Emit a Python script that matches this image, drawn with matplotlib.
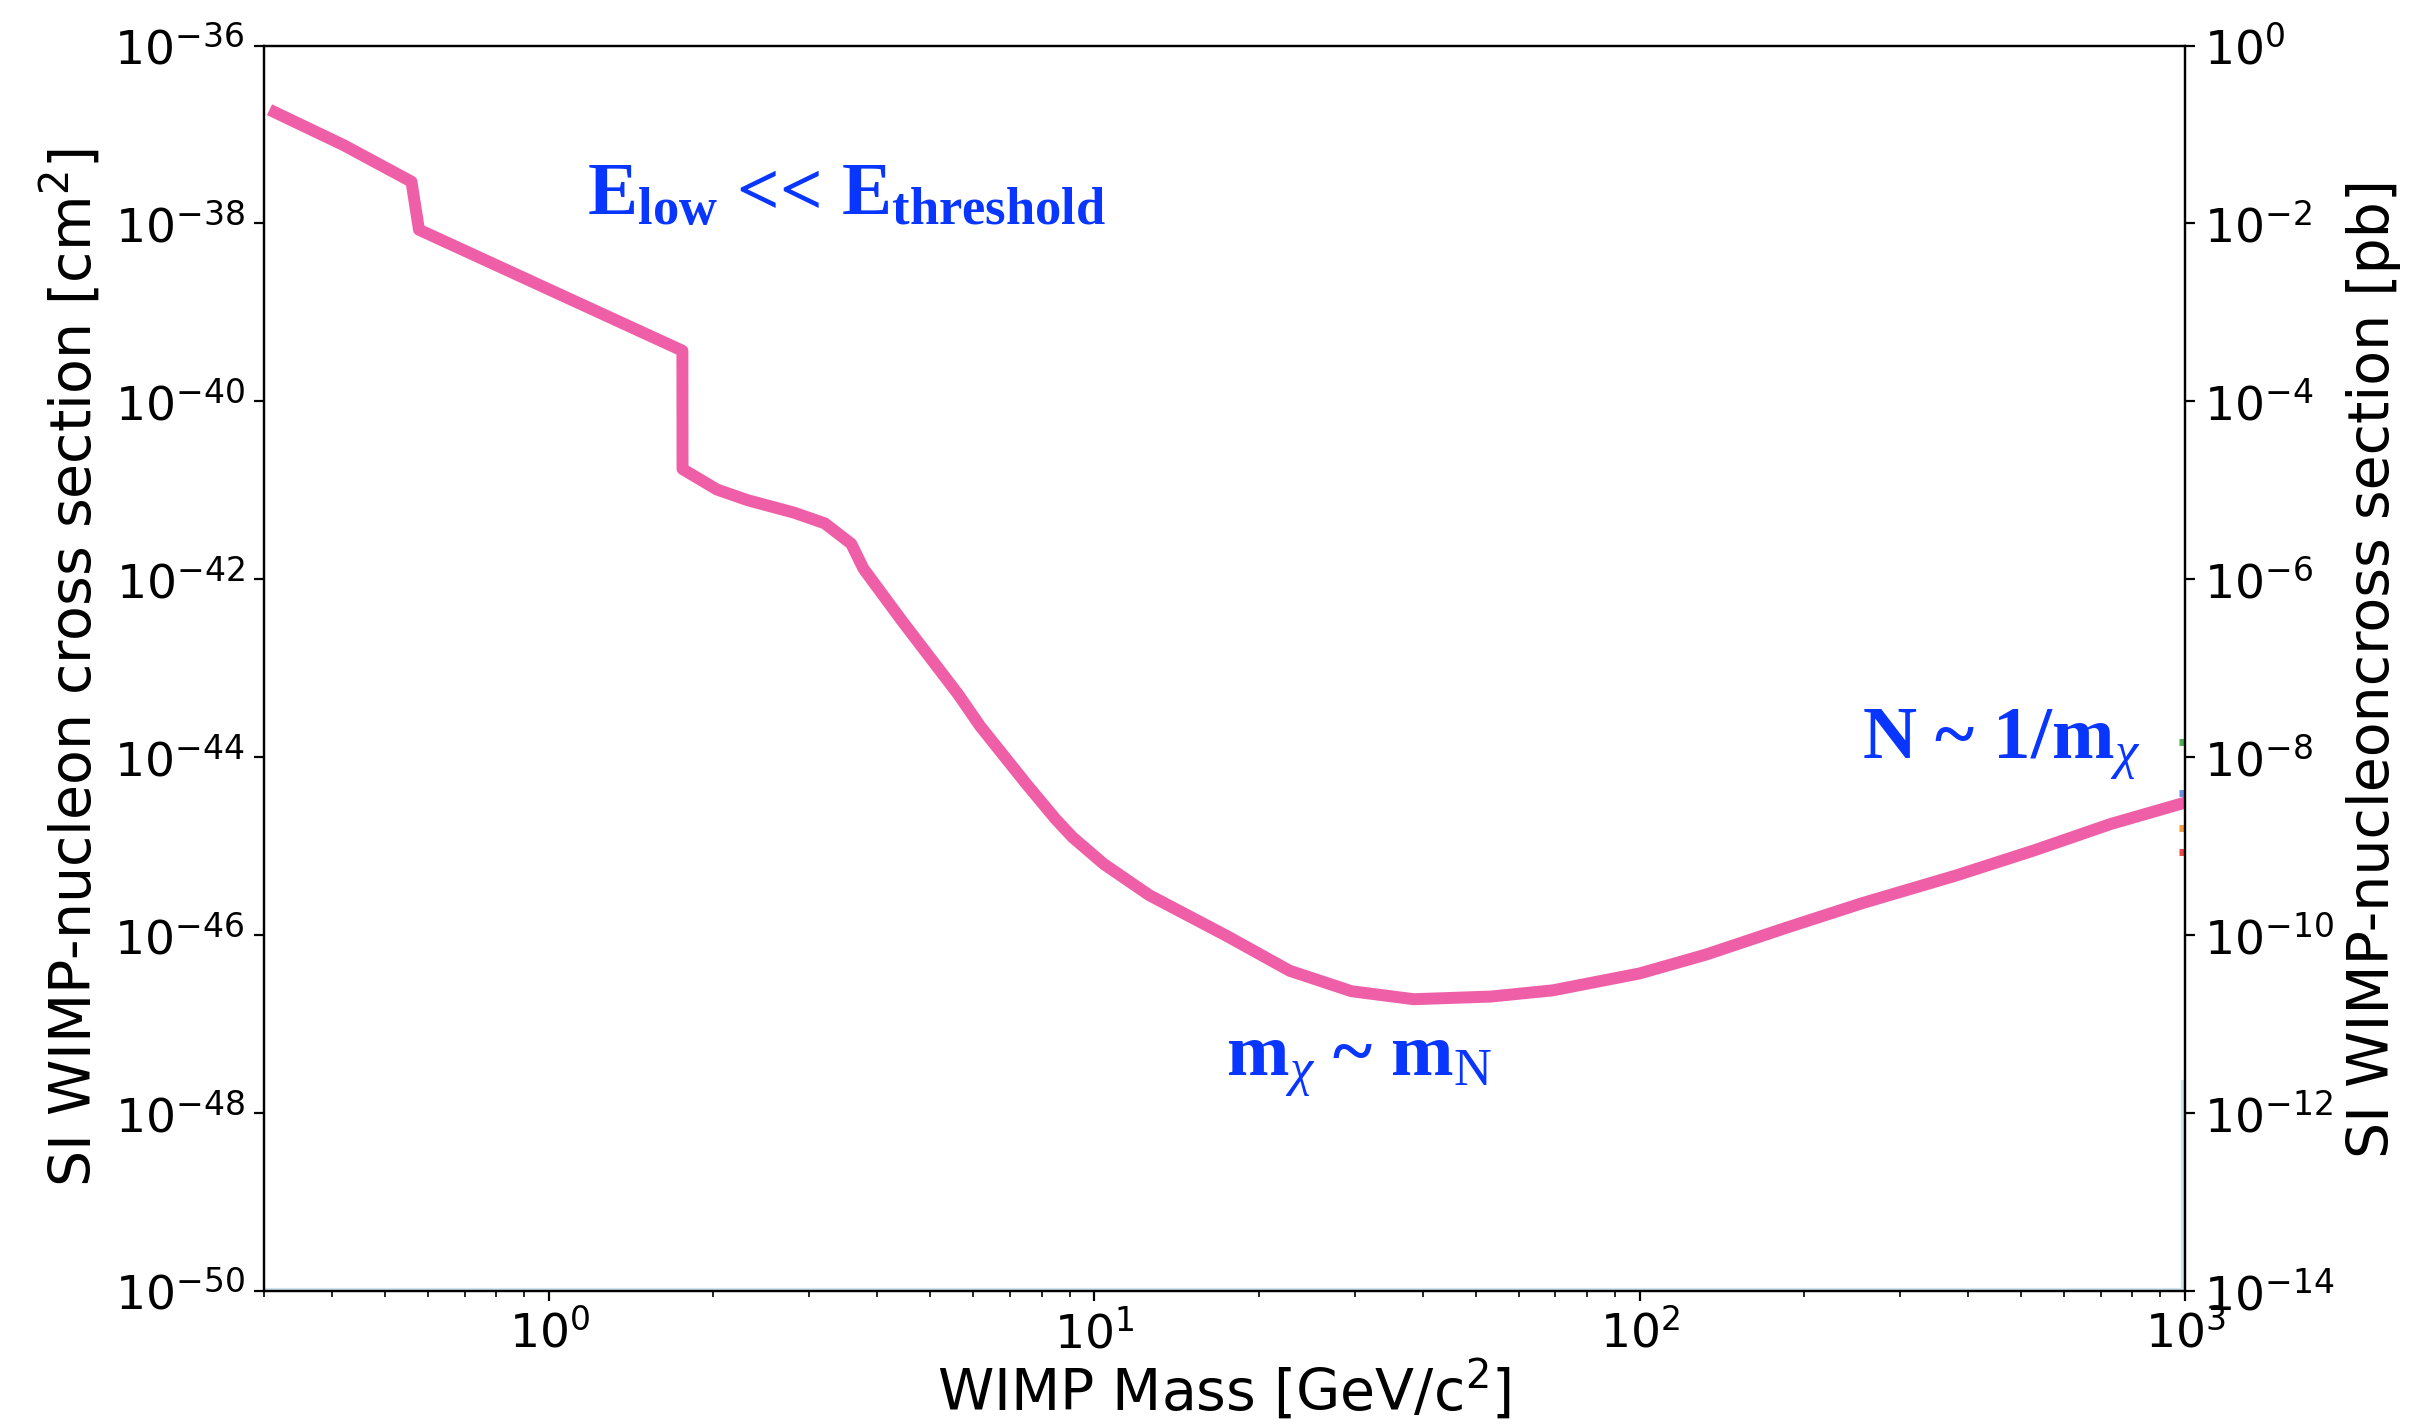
import matplotlib
matplotlib.use("Agg")
import matplotlib.pyplot as plt
import numpy as np

plt.rcParams['mathtext.rm'] = 'Liberation Serif'
plt.rcParams['mathtext.it'] = 'Liberation Serif:italic'
plt.rcParams['mathtext.bf'] = 'Liberation Serif:bold'

# exclusion curve (mass in GeV/c^2, sigma in cm^2)
mass = [0.314, 0.42, 0.559, 0.577, 1.755, 1.756, 2.03, 2.31, 2.81, 3.2, 3.58, 3.77,
        4.44, 5.62, 6.17, 7.5, 8.5, 9.12, 10.4, 12.6, 17.5, 22.8, 29.6, 38.5, 53.4,
        69.3, 100, 132, 185, 256, 380, 527, 731, 1000]
log_sigma = [-36.75, -37.12, -37.53, -38.07, -39.43, -40.76, -40.99, -41.11, -41.25,
             -41.37, -41.60, -41.88, -42.47, -43.29, -43.65, -44.30, -44.70, -44.90,
             -45.20, -45.55, -46.01, -46.40, -46.63, -46.72, -46.69, -46.62, -46.43,
             -46.22, -45.92, -45.64, -45.33, -45.05, -44.75, -44.51]
sigma = [10 ** v for v in log_sigma]

# other curves, only visible at the right edge
edge_mass = [975, 996]
edge_curves = {
    '#4caf50': [-43.83, -43.83],
    '#6f8fe0': [-44.40, -44.40],
    '#f5a040': [-44.80, -44.80],
    '#f04848': [-45.07, -45.07],
}
lb_mass = [0.3, 993, 993]
lb_log_sigma = [-49.99, -49.99, -47.65]

fig = plt.figure(figsize=(12.17, 7.12), dpi=200)
ax = fig.add_axes([0.1085, 0.0934, 0.7892, 0.8746])

ax.plot(lb_mass, [10 ** v for v in lb_log_sigma], color='#cfe6ee', lw=1.5)
for c, ys in edge_curves.items():
    ax.plot(edge_mass, [10 ** v for v in ys], color=c, lw=2.5, solid_capstyle='butt')
ax.plot(mass, sigma, color='#ef5fa7', lw=4.3)

ax.set_xscale('log')
ax.set_yscale('log')
ax.set_xlim(0.3, 1000)
ax.set_ylim(1e-50, 1e-36)
ax.set_yticks([10.0 ** e for e in range(-50, -35, 2)])
ax.tick_params(labelsize=17)
ax.set_xlabel(r'WIMP Mass [GeV/c$^2$]', fontsize=20.5, labelpad=0)
ax.set_ylabel(r'SI WIMP-nucleon cross section [cm$^2$]', fontsize=20.5)

ax2 = ax.twinx()
ax2.set_yscale('log')
ax2.set_ylim(1e-14, 1)
ax2.set_yticks([10.0 ** e for e in range(-14, 1, 2)])
ax2.tick_params(labelsize=17)
ax2.set_ylabel('SI WIMP-nucleoncross section [pb]', fontsize=20.5)

txt = dict(transform=ax.transAxes, color='#0836ff', fontsize=27, fontfamily='Liberation Serif',
           fontweight='bold', math_fontfamily='custom', va='baseline')
ax.text(0.168, 0.864, r'$\mathbf{E}_{\mathbf{low}}$ << $\mathbf{E}_{\mathbf{threshold}}$', **txt)
ax.text(0.501, 0.173, r'$\mathbf{m}_{\chi}$ ~ $\mathbf{m}_{\mathrm{N}}$', **txt)
ax.text(0.832, 0.428, r'N ~ 1/$\mathbf{m}_{\chi}$', **txt)

fig.savefig('out.png', dpi=200)
